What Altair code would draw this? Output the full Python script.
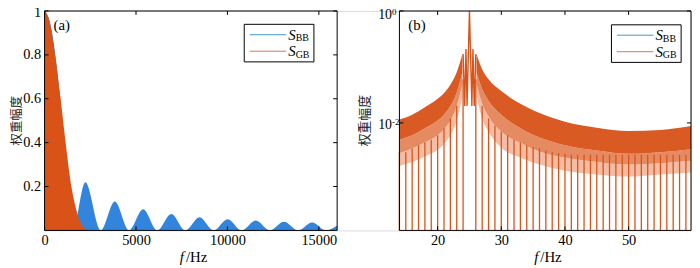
import altair as alt
import pandas as pd

# ---------------- Panel (a) data ----------------
a_bb_main_f = [0, 350, 700, 1050, 1300, 1540]
a_bb_main_v = [1.0, 0.93, 0.72, 0.43, 0.2, 0.0]
a_bb_zero_f = [1540, 3070, 4620, 6160, 7700, 9240, 10780, 12320, 13860, 15400]
a_bb_peak_f = [2230, 3840, 5390, 6930, 8470, 10010, 11550, 13090, 14630]
a_bb_peak_v = [0.219, 0.132, 0.096, 0.075, 0.060, 0.051, 0.045, 0.039, 0.036]
a_bb_tail_f = [15400, 16000]
a_bb_tail_v = [0.0, 0.022]
a_gb_f = [0, 180, 568, 875, 1140, 1460, 1750, 2000, 2360]
a_gb_v = [1.0, 0.977, 0.805, 0.602, 0.407, 0.204, 0.09, 0.03, 0.0]
a_xticks = [0, 5000, 10000, 15000]
a_yticks = [0.2, 0.4, 0.6, 0.8, 1.0]

# ---------------- Panel (b) data ----------------
b_left_f = [14, 16, 18, 20, 21, 22, 23, 23.9]
b_left_up = [0.0115, 0.014, 0.019, 0.027, 0.034, 0.048, 0.08, 0.17]
b_left_mid = [0.005, 0.006, 0.008, 0.011, 0.014, 0.02, 0.035, 0.08]
b_left_mid2 = [0.0029, 0.0035, 0.0045, 0.006, 0.0077, 0.011, 0.02, 0.05]
b_left_low = [0.0017, 0.002, 0.0025, 0.0033, 0.0042, 0.006, 0.011, 0.03]
b_right_f = [26.1, 27, 28, 30, 33, 36, 40, 45, 50, 55, 59.8]
b_right_up = [0.17, 0.09, 0.06, 0.037, 0.022, 0.015, 0.0105, 0.0082, 0.0072, 0.0075, 0.0088]
b_right_mid = [0.08, 0.04, 0.025, 0.014, 0.008, 0.0055, 0.004, 0.0032, 0.0028, 0.003, 0.0034]
b_right_mid2 = [0.05, 0.022, 0.013, 0.007, 0.0044, 0.0031, 0.0024, 0.002, 0.0018, 0.0019, 0.0021]
b_right_low = [0.03, 0.012, 0.007, 0.0036, 0.0024, 0.0018, 0.0014, 0.0012, 0.0011, 0.0012, 0.0013]
b_peak_f = [24.0, 24.25, 24.45, 24.62, 25.0, 25.38, 25.55, 25.75, 26.0]
b_peak_v = [0.17, 0.02, 0.21, 0.02, 1.0, 0.02, 0.21, 0.02, 0.17]
b_rule_f = list(range(14, 25)) + list(range(26, 60))
b_rule_top = ([0.003, 0.003, 0.0035, 0.004, 0.0045, 0.005, 0.006, 0.008, 0.012, 0.02, 0.06]
              + [0.06, 0.02, 0.012, 0.009, 0.007, 0.006, 0.005, 0.0045, 0.004, 0.0037,
                 0.0035, 0.0032, 0.003, 0.0029, 0.0028] + [0.0027] * 19)
b_xticks = [20, 30, 40, 50]
b_yticks = [1.0, 0.01]
b_ytick_exp = ["0", "-2"]

SUBS = ["BB", "GB"]
BLUE = "#3384DC"
BLUE_LINE = "#3F98DC"
ORANGE = "#D95319"
ORANGE_LINE = "#DE7450"
ORANGE_1 = "#DA5A24"
ORANGE_2 = "#E68A62"
ORANGE_3 = "#F2BDA4"
SERIF = "Liberation Serif"
CJK = "Noto Sans CJK SC"
LBL = 14.5

# layout (pixels inside one shared view)
WA = 296          # panel (a) plot width
OXB = 359         # left edge of panel (b)
WB = 295          # panel (b) plot width
W = OXB + WB
H = 222

one = pd.DataFrame({"k": [0]})


def frame(ox, w):
    return alt.Chart(one).mark_rect(fill=None, stroke="black", strokeWidth=1).encode(
        x=alt.value(ox), x2=alt.value(ox + w), y=alt.value(0), y2=alt.value(H))


def inward_ticks(xvals, yvals, xs, ys, ox, w):
    layers = []
    dx = pd.DataFrame({"t": xvals})
    dy = pd.DataFrame({"t": yvals})
    for y0, y1 in [(H, H - 4), (0, 4)]:
        layers.append(alt.Chart(dx).mark_rule(color="black", strokeWidth=1).encode(
            x=alt.X("t:Q", scale=xs), y=alt.value(y0), y2=alt.value(y1)))
    for x0, x1 in [(ox, ox + 4), (ox + w, ox + w - 4)]:
        layers.append(alt.Chart(dy).mark_rule(color="black", strokeWidth=1).encode(
            y=alt.Y("t:Q", scale=ys), x=alt.value(x0), x2=alt.value(x1)))
    return layers


def legend(left, top):
    layers = [alt.Chart(one).mark_rect(fill="white", stroke="black", strokeWidth=1).encode(
        x=alt.value(left), x2=alt.value(left + 70.5), y=alt.value(top), y2=alt.value(top + 38))]
    cols = [BLUE_LINE, ORANGE_LINE]
    for i in range(2):
        yy = top + 10.5 + 16.7 * i
        layers.append(alt.Chart(one).mark_rule(color=cols[i], strokeWidth=1).encode(
            x=alt.value(left + 5.5), x2=alt.value(left + 42.5), y=alt.value(yy)))
        layers.append(alt.Chart(one).mark_text(
            text="S", font=SERIF, fontStyle="italic", fontSize=15, align="left",
            baseline="alphabetic", color="black").encode(
            x=alt.value(left + 44.5), y=alt.value(yy + 5.2)))
        layers.append(alt.Chart(one).mark_text(
            text=SUBS[i], font=SERIF, fontSize=10, align="left",
            baseline="alphabetic", color="black").encode(
            x=alt.value(left + 52), y=alt.value(yy + 6.8)))
    return layers


def xtitle(cx):
    return [
        alt.Chart(one).mark_text(text="f", font=SERIF, fontStyle="italic", fontSize=15,
                                 align="right", baseline="middle", color="black").encode(
            x=alt.value(cx - 7), y=alt.value(H + 26.5)),
        alt.Chart(one).mark_text(text="/Hz", font=SERIF, fontSize=15,
                                 align="left", baseline="middle", color="black").encode(
            x=alt.value(cx - 5), y=alt.value(H + 26.5)),
    ]


def ytitle(x, cy, size=13):
    return alt.Chart(one).mark_text(text="权重幅度", font=CJK, fontSize=size, angle=270,
                                    align="center", baseline="middle", color="#222").encode(
        x=alt.value(x), y=alt.value(cy))


def panel_label(txt, x, y):
    return alt.Chart(one).mark_text(text=txt, font=SERIF, fontSize=15, align="left",
                                    baseline="middle", color="black").encode(
        x=alt.value(x), y=alt.value(y))


# ---------------- Panel (a) ----------------
rows = []
for f, v in zip(a_bb_main_f, a_bb_main_v):
    rows.append({"f": f, "v": v, "lobe": "m"})
for i in range(len(a_bb_peak_f)):
    rows.append({"f": a_bb_zero_f[i], "v": 0.0, "lobe": f"l{i}"})
    rows.append({"f": a_bb_peak_f[i], "v": a_bb_peak_v[i], "lobe": f"l{i}"})
    rows.append({"f": a_bb_zero_f[i + 1], "v": 0.0, "lobe": f"l{i}"})
for f, v in zip(a_bb_tail_f, a_bb_tail_v):
    rows.append({"f": f, "v": v, "lobe": "t"})
df_bb = pd.DataFrame(rows)
df_gb = pd.DataFrame({"f": a_gb_f, "v": a_gb_v})

xa = alt.Scale(domain=[0, 16000], nice=False, zero=False, range=[0, WA])
ya = alt.Scale(domain=[0, 1], nice=False)

ax_x_a = alt.Axis(values=a_xticks, format="d", title=None, ticks=False, domain=False,
                  grid=False, orient="bottom", labelFont=SERIF, labelFontSize=LBL,
                  labelColor="black", labelPadding=3, labelFlush=False)
ax_y_a = alt.Axis(values=a_yticks, format=".1~f", title=None, ticks=False, domain=False,
                  orient="left", grid=False, labelFont=SERIF, labelFontSize=LBL,
                  labelColor="black", labelPadding=4, labelFlush=False,
                  labelOffset={"condition": {"test": "datum.value == 1", "value": 2},
                               "value": 0})

bb_area = alt.Chart(df_bb).mark_area(interpolate="monotone", color=BLUE).encode(
    x=alt.X("f:Q", scale=xa, axis=ax_x_a), y=alt.Y("v:Q", scale=ya, axis=ax_y_a),
    detail="lobe:N")
gb_area = alt.Chart(df_gb).mark_area(interpolate="monotone", color=ORANGE).encode(
    x=alt.X("f:Q", scale=xa), y=alt.Y("v:Q", scale=ya))

layers_a = [bb_area, gb_area, frame(0, WA)] + inward_ticks(a_xticks, a_yticks, xa, ya, 0, WA) \
    + legend(202, 13.5) + xtitle(WA / 2) + [ytitle(-28, H / 2, 12.5), panel_label("(a)", 9, 14)]
panel_a = alt.layer(*layers_a)

# ---------------- Panel (b) ----------------
xb = alt.Scale(domain=[14, 59.8], nice=False, zero=False, range=[OXB, W])
yb = alt.Scale(type="log", domain=[1.2e-4, 1], nice=False)

df_band = pd.concat([
    pd.DataFrame({"f": b_left_f, "up": b_left_up, "mid": b_left_mid, "mid2": b_left_mid2,
                  "low": b_left_low, "side": "L"}),
    pd.DataFrame({"f": b_right_f, "up": b_right_up, "mid": b_right_mid, "mid2": b_right_mid2,
                  "low": b_right_low, "side": "R"}),
])
df_peak = pd.DataFrame({"f": b_peak_f, "v": b_peak_v})
df_rules = pd.DataFrame({"f": b_rule_f, "top": b_rule_top, "bottom": [1.2e-4] * len(b_rule_f)})

ax_x_b = alt.Axis(values=b_xticks, title=None, ticks=False, domain=False, grid=False,
                  orient="bottom", labelFont=SERIF, labelFontSize=LBL, labelColor="black",
                  labelPadding=3)

band_3 = alt.Chart(df_band).mark_area(interpolate="monotone", color=ORANGE_3).encode(
    x=alt.X("f:Q", scale=xb, axis=ax_x_b),
    y=alt.Y("mid2:Q", scale=yb, axis=None), y2="low:Q", detail="side:N")
band_2 = alt.Chart(df_band).mark_area(interpolate="monotone", color=ORANGE_2).encode(
    x=alt.X("f:Q", scale=xb), y=alt.Y("mid:Q", scale=yb), y2="mid2:Q", detail="side:N")
band_1 = alt.Chart(df_band).mark_area(interpolate="monotone", color=ORANGE_1).encode(
    x=alt.X("f:Q", scale=xb), y=alt.Y("up:Q", scale=yb), y2="mid:Q", detail="side:N")
rules_b = alt.Chart(df_rules).mark_rule(color=ORANGE, strokeWidth=1.3).encode(
    x=alt.X("f:Q", scale=xb), y=alt.Y("bottom:Q", scale=yb), y2="top:Q")
peak_b = alt.Chart(df_peak).mark_line(color=ORANGE, strokeWidth=1.4).encode(
    x=alt.X("f:Q", scale=xb), y=alt.Y("v:Q", scale=yb))

ylabels = []
lab_dy = [4, 2]      # vertical nudges of the two log labels (pixels)
exp_dy = [1.5, -1]
for t, e, d1, d2 in zip(b_yticks, b_ytick_exp, lab_dy, exp_dy):
    dft = pd.DataFrame({"t": [t], "e": [e]})
    ylabels.append(alt.Chart(dft).mark_text(font=SERIF, fontSize=14, align="right",
                                            baseline="middle", dy=d1, color="black").encode(
        y=alt.Y("t:Q", scale=yb), x=alt.value(OXB - 7.5), text=alt.value("10")))
    ylabels.append(alt.Chart(dft).mark_text(font=SERIF, fontSize=9, align="left",
                                            baseline="middle", dy=d2, color="black").encode(
        y=alt.Y("t:Q", scale=yb), x=alt.value(OXB - 7.5), text="e:N"))

layers_b = [band_3, band_2, band_1, rules_b, peak_b, frame(OXB, WB)] \
    + inward_ticks(b_xticks, b_yticks, xb, yb, OXB, WB) \
    + legend(OXB + 214.5, 14) + xtitle(OXB + WB / 2) \
    + [ytitle(OXB - 35, H / 2), panel_label("(b)", OXB + 9, 14)] + ylabels
panel_b = alt.layer(*layers_b)

chart = alt.layer(panel_a, panel_b).resolve_scale(x="independent", y="independent").properties(
    width=W, height=H,
    autosize=alt.AutoSizeParams(type="none"),
    padding={"left": 37, "top": 1.5, "right": 1, "bottom": 36},
).configure_view(stroke=None).configure(background="white")

chart.save("out.html", embed_options={"renderer": "svg", "actions": False})
